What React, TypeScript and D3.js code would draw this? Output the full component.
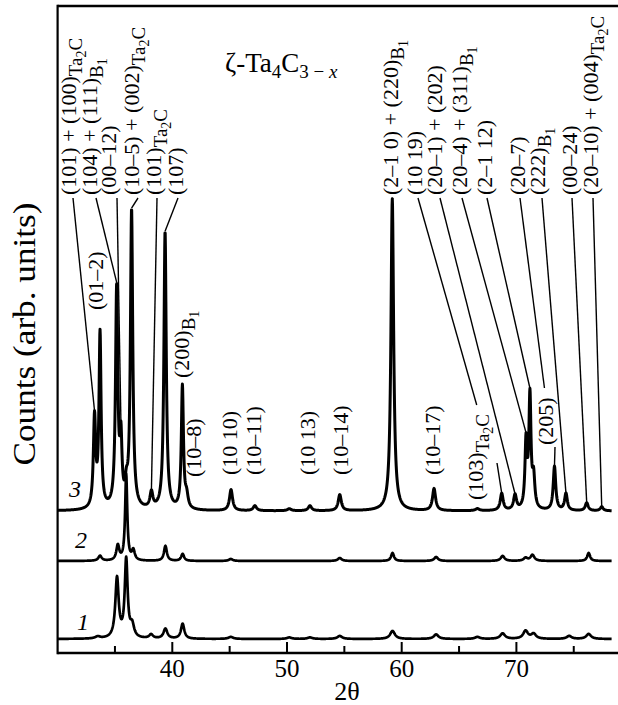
import React from "react";
import * as d3 from "d3";

// ---- axis data ----
const thetaExtent = [30, 78.3];
const majorTicks = [40, 50, 60, 70];
const minorTicks = [35, 45, 55, 65, 75];
const countsExtent = [0, 647];

// ---- diffraction patterns: reflection position (2θ, deg), intensity (arb.), FWHM (deg) ----
const p1Pos = [33.5, 35.18, 35.98, 36.5, 38.15, 39.4, 40.9, 45.1, 50.2, 52.0, 54.6, 59.2, 63.0, 66.6, 68.8, 70.8, 71.5, 74.6, 76.3];
const p1Int = [2, 60, 78, 12, 4, 10, 15, 2, 1.5, 1.5, 3, 8, 4.5, 2, 5.5, 8, 5, 3, 5];
const p1Fw = [0.5, 0.35, 0.3, 0.4, 0.4, 0.4, 0.35, 0.5, 0.5, 0.5, 0.5, 0.5, 0.5, 0.5, 0.5, 0.5, 0.5, 0.5, 0.5];
const p1Offset = 14;

const p2Pos = [33.7, 35.25, 35.98, 36.6, 39.4, 40.9, 45.1, 54.6, 59.2, 63.0, 68.8, 70.8, 71.4, 76.3];
const p2Int = [5, 15, 86, 10, 15, 7, 2, 3, 8, 4, 5, 3, 6, 8];
const p2Fw = [0.35, 0.3, 0.22, 0.3, 0.3, 0.3, 0.4, 0.4, 0.3, 0.4, 0.4, 0.4, 0.4, 0.3];
const p2Offset = 92;

const p3Pos = [33.22, 33.7, 35.15, 35.52, 36.0, 36.45, 38.18, 39.37, 40.88, 41.25, 45.12, 47.2, 50.2, 52.0, 54.6, 59.18, 62.82, 66.6, 68.72, 69.88, 70.84, 71.18, 71.5, 73.32, 74.32, 76.13, 77.44];
const p3Int = [90, 174, 219, 62, 16, 298, 16, 278, 123, 12, 21, 5, 2, 5, 16, 312, 22, 2, 17, 15, 66, 112, 30, 44, 17, 8, 4];
const p3Fw = [0.24, 0.22, 0.24, 0.22, 0.25, 0.24, 0.3, 0.24, 0.22, 0.3, 0.32, 0.35, 0.4, 0.35, 0.32, 0.28, 0.32, 0.4, 0.3, 0.3, 0.22, 0.22, 0.25, 0.26, 0.28, 0.3, 0.3];
const p3Offset = 142;

// ---- reflection labels: text segments [text, level] (0 = normal, 1 = subscript, 2 = sub-subscript) ----
type Seg = [string, number];
const topLabels: Seg[][] = [
  [["(101) + (100)", 0], ["Ta", 1], ["2", 2], ["C", 1]],
  [["(104) + (111)", 0], ["B", 1], ["1", 2]],
  [["(00–12)", 0]],
  [["(10–5) + (002)", 0], ["Ta", 1], ["2", 2], ["C", 1]],
  [["(101)", 0], ["Ta", 1], ["2", 2], ["C", 1]],
  [["(107)", 0]],
  [["(2–1 0) + (220)", 0], ["B", 1], ["1", 2]],
  [["(10 19)", 0]],
  [["(20–1) + (202)", 0]],
  [["(20–4) + (311)", 0], ["B", 1], ["1", 2]],
  [["(2–1 12)", 0]],
  [["(20–7)", 0]],
  [["(222)", 0], ["B", 1], ["1", 2]],
  [["(00–24)", 0]],
  [["(20–10) + (004)", 0], ["Ta", 1], ["2", 2], ["C", 1]],
];
// reflection each top label points to (2θ)
const topLabelPeaks = [33.22, 35.15, 35.52, 36.45, 38.18, 39.37, 59.18, 68.72, 69.88, 70.84, 71.18, 73.32, 74.32, 76.13, 77.44];

const inlineLabels: Seg[][] = [
  [["(01–2)", 0]],
  [["(200)", 0], ["B", 1], ["1", 2]],
  [["(10–8)", 0]],
  [["(10 10)", 0]],
  [["(10–11)", 0]],
  [["(10 13)", 0]],
  [["(10–14)", 0]],
  [["(10–17)", 0]],
  [["(103)", 0], ["Ta", 1], ["2", 2], ["C", 1]],
  [["(205)", 0]],
];
const inlineLabelPeaks = [null, null, null, null, null, null, null, null, 68.72, 73.32];

const curveNames = ["1", "2", "3"];

// ---- layout ----
const W = 618;
const H = 705;
const X0 = 57.6;
const X1 = 611.6;
const YTOP = 6;
const YBOT = 653;
const SERIF = "'Liberation Serif', 'Times New Roman', serif";

// column centre x and text foot y of the upright label stacks
const topCols = [71, 92, 111, 134, 156, 178, 393, 417, 437, 462, 487, 520, 540, 572, 593];
const topFootY = 195;
const topLeaderX = [73, 96, 117, 138, 157, 178, 393, 418, 440, 462, 487, 520, 542, 572, 593];
const topLeaderStop: (number | null)[] = [null, null, null, null, null, null, null, 405, null, null, null, 388, null, null, null];

const inlineCols = [98, 184, 196, 232, 256, 310, 343, 435, 478, 548];
const inlineFootY = [310, 378, 477, 475, 475, 475, 475, 475, 500, 445];
const inlineLeaderFrom: ([number, number] | null)[] = [null, null, null, null, null, null, null, null, [497, 463], [555, 447]];

const x = d3.scaleLinear().domain(thetaExtent).range([X0, X1]);
const y = d3.scaleLinear().domain(countsExtent).range([YBOT, YTOP]);

function pattern(pos: number[], amp: number[], fw: number[], offset: number) {
  return (t: number) => {
    let s = offset;
    for (let i = 0; i < pos.length; i++) {
      const u = (t - pos[i]) / (fw[i] / 2);
      s += amp[i] / (1 + u * u);
    }
    return s;
  };
}

const f1 = pattern(p1Pos, p1Int, p1Fw, p1Offset);
const f2 = pattern(p2Pos, p2Int, p2Fw, p2Offset);
const f3 = pattern(p3Pos, p3Int, p3Fw, p3Offset);

const grid = d3.range(thetaExtent[0], thetaExtent[1] + 1e-9, 0.02);
const line = d3
  .line<number>()
  .x((t) => x(t))
  .curve(d3.curveLinear);

function path(f: (t: number) => number) {
  return line.y((t) => y(f(t)))(grid) || "";
}

const SIZES = [22, 19, 14];
const SHIFT = [0, 6, 10];

function Rotated({ segs, cx, foot }: { segs: Seg[]; cx: number; foot: number }) {
  let prev = 0;
  return (
    <text
      transform={`translate(${cx + 5},${foot}) rotate(-90)`}
      fontFamily={SERIF}
      fontSize={SIZES[0]}
      fill="#000"
    >
      {segs.map(([s, lv], i) => {
        const dy = SHIFT[lv] - SHIFT[prev];
        prev = lv;
        return (
          <tspan key={i} dy={dy} fontSize={SIZES[lv]}>
            {s}
          </tspan>
        );
      })}
    </text>
  );
}

export default function App() {
  const curves = [f1, f2, f3];
  const nameY = [630, 548, 497];
  const nameX = [77, 75, 69];
  return (
    <svg
      width={W}
      height={H}
      viewBox={`0 0 ${W} ${H}`}
      style={{ position: "absolute", left: 0, top: 0, background: "#fff" }}
    >
      <rect width={W} height={H} fill="#fff" />
      {/* frame */}
      <line x1={X0} x2={W} y1={YTOP} y2={YTOP} stroke="#000" strokeWidth={2.5} />
      <line x1={X0} x2={X0} y1={YTOP - 1.2} y2={YBOT + 1.2} stroke="#000" strokeWidth={2.2} />
      <line x1={X0} x2={W} y1={YBOT} y2={YBOT} stroke="#000" strokeWidth={2.5} />
      {/* ticks */}
      {majorTicks.map((t) => (
        <g key={"M" + t}>
          <line x1={x(t)} x2={x(t)} y1={YBOT} y2={YBOT - 11} stroke="#000" strokeWidth={2} />
          <text x={x(t)} y={677} textAnchor="middle" fontFamily={SERIF} fontSize={25}>
            {t}
          </text>
        </g>
      ))}
      {minorTicks.map((t) => (
        <line key={"m" + t} x1={x(t)} x2={x(t)} y1={YBOT} y2={YBOT - 7} stroke="#000" strokeWidth={2} />
      ))}
      <text x={347} y={700} textAnchor="middle" fontFamily={SERIF} fontSize={26}>
        2θ
      </text>
      <text
        transform="translate(35,334) rotate(-90) scale(1.1,1)"
        textAnchor="middle"
        fontFamily={SERIF}
        fontSize={32}
      >
        Counts (arb. units)
      </text>
      {/* title */}
      <text x={225} y={72} fontFamily={SERIF} fontSize={27}>
        <tspan>ζ-Ta</tspan>
        <tspan dy={6} fontSize={19}>4</tspan>
        <tspan dy={-6}>C</tspan>
        <tspan dy={6} fontSize={19}>3 − </tspan>
        <tspan fontSize={19} fontStyle="italic">x</tspan>
      </text>
      {/* patterns */}
      {curves.map((f, i) => (
        <path
          key={i}
          d={path(f)}
          fill="none"
          stroke="#000"
          strokeWidth={i === 2 ? 3 : 2.7}
          strokeLinejoin="round"
        />
      ))}
      {curveNames.map((n, i) => (
        <text key={n} x={nameX[i]} y={nameY[i]} fontFamily={SERIF} fontStyle="italic" fontSize={24}>
          {n}
        </text>
      ))}
      {/* leaders from the upper label row */}
      {topLabelPeaks.map((p, i) => {
        const x0 = topLeaderX[i];
        const y0 = topFootY + 3;
        const px = x(p);
        const py = y(f3(p));
        let x2 = px;
        let y2 = py;
        const stop = topLeaderStop[i];
        if (stop !== null) {
          const k = (stop - y0) / (py - y0);
          x2 = x0 + (px - x0) * k;
          y2 = stop;
        }
        return <line key={"L" + i} x1={x0} y1={y0} x2={x2} y2={y2} stroke="#000" strokeWidth={1.4} />;
      })}
      {inlineLabelPeaks.map((p, i) => {
        const from = inlineLeaderFrom[i];
        if (p === null || from === null) return null;
        return (
          <line
            key={"l" + i}
            x1={from[0]}
            y1={from[1]}
            x2={x(p)}
            y2={y(f3(p))}
            stroke="#000"
            strokeWidth={1.4}
          />
        );
      })}
      {topLabels.map((segs, i) => (
        <Rotated key={"T" + i} segs={segs} cx={topCols[i]} foot={topFootY} />
      ))}
      {inlineLabels.map((segs, i) => (
        <Rotated key={"I" + i} segs={segs} cx={inlineCols[i]} foot={inlineFootY[i]} />
      ))}
    </svg>
  );
}
